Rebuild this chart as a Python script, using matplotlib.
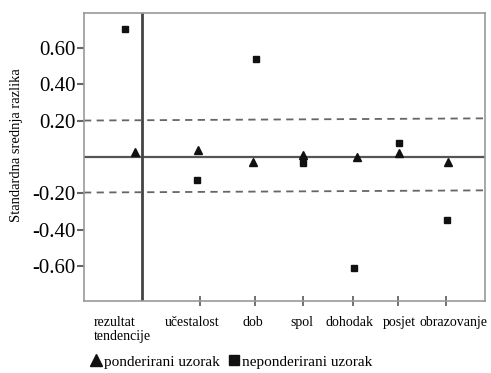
#!/usr/bin/env python3

import matplotlib
matplotlib.use('Agg')
import matplotlib.pyplot as plt
from matplotlib.lines import Line2D

# categories and values
categories = ['rezultat\ntendencije', 'učestalost', 'dob', 'spol',
              'dohodak', 'posjet', 'obrazovanje']
weighted = [0.03, 0.04, -0.03, 0.01, 0.0, 0.02, -0.03]
unweighted = [0.70, -0.127, 0.54, -0.035, -0.607, 0.078, -0.343]
ytick_vals = [0.60, 0.40, 0.20, -0.20, -0.40, -0.60]
ytick_labels = ['0.60', '0.40', '0.20', '-0.20', '-0.40', '-0.60']

# layout (axis units): tick marks, label centres, marker positions
tick_x = [116, 171, 219, 269, 314, 362]
label_x = [38, 108, 168.5, 218, 266, 315, 370]
sq_x = [41, 113, 172, 219, 270, 315, 363]
tri_x = [51, 114, 169, 219, 273, 315, 364]

plt.rcParams['font.family'] = ['Liberation Serif', 'DejaVu Serif']

fig = plt.figure(figsize=(4.91, 3.73), dpi=100)
ax = fig.add_axes([84 / 491, 1 - 301 / 373, 401 / 491, 288 / 373])

ax.set_xlim(0, 401)
ax.set_ylim(-0.79, 0.79)

# reference lines
ax.axhline(0, color='#555555', lw=1.6, zorder=1)
ax.axvline(57.5, color='#444444', lw=2.0, zorder=1)
ax.plot([0, 401], [0.20, 0.212], color='#666666', lw=1.3,
        dashes=(4, 3), zorder=1)
ax.plot([0, 401], [-0.195, -0.183], color='#666666', lw=1.3,
        dashes=(4, 3), zorder=1)

ax.plot(tri_x, weighted, linestyle='none', marker='^', ms=5.5,
        color='#111111', zorder=3)
ax.plot(sq_x, unweighted, linestyle='none', marker='s', ms=4.2,
        color='#111111', zorder=3)

# axes styling
for s in ax.spines.values():
    s.set_color('#999999')
    s.set_linewidth(1.2)

ax.set_yticks(ytick_vals)
ax.set_yticklabels(ytick_labels, fontsize=15)
ax.tick_params(axis='y', direction='out', length=5, width=1.5,
               color='#666666', pad=1)

ax.set_xticks(tick_x)
ax.set_xticklabels([])
ax.tick_params(axis='x', direction='inout', length=7, width=1.3,
               color='#666666')
for x, lab in zip(label_x, categories):
    ax.text(x, -0.87, lab, ha='center', va='top', fontsize=10,
            multialignment='left', linespacing=1.1)

ax.set_ylabel('Standardna srednja razlika', fontsize=10.5)
ax.yaxis.set_label_coords(-0.152, 0.542)

handles = [Line2D([], [], linestyle='none', marker='^', ms=8, color='#111111'),
           Line2D([], [], linestyle='none', marker='s', ms=7.5, color='#111111')]
fig.legend(handles, ['ponderirani uzorak', 'neponderirani uzorak'],
           loc='lower left', bbox_to_anchor=(80 / 491, -0.017), ncol=2,
           frameon=False, fontsize=11, handlelength=0.7, handletextpad=0.15,
           columnspacing=0.6, borderpad=0.2)

fig.savefig('out.png', dpi=100)
